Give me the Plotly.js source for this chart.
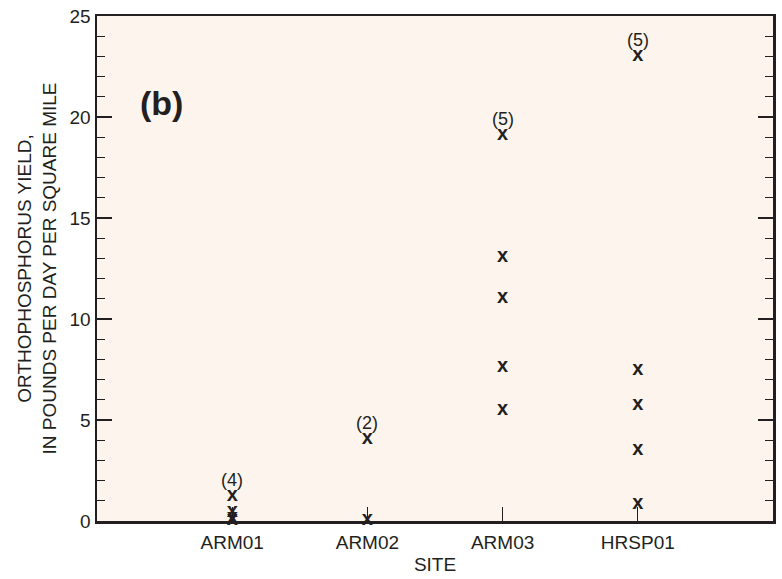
<!DOCTYPE html>
<html>
<head>
<meta charset="utf-8">
<script src="https://cdn.plot.ly/plotly-3.0.1.min.js"></script>
<style>html,body{margin:0;padding:0;background:#fff;}#chart{width:782px;height:579px;}</style>
</head>
<body>
<div id="chart"></div>
<script>
const sites = ["ARM01", "ARM02", "ARM03", "HRSP01"];
const arm01 = [1.25, 0.45, 0.15, 0.05];
const arm02 = [4.05, 0.05];
const arm03 = [19.1, 13.05, 11.05, 7.6, 5.5];
const hrsp01 = [23.0, 7.5, 5.75, 3.5, 0.85];
const counts = ["(4)", "(2)", "(5)", "(5)"];
const countY = [1.25, 4.05, 19.1, 23.0];

const values = [arm01, arm02, arm03, hrsp01];
const xs = [], ys = [];
values.forEach((vals, i) => vals.forEach(v => { xs.push(i + 1); ys.push(v); }));

const font = "Liberation Sans, Arial, Helvetica, sans-serif";
const ink = "#231f20";
const trace = {
  x: xs, y: ys, mode: "text", type: "scatter",
  text: xs.map(() => "x"),
  textposition: "middle center",
  textfont: {family: font, size: 20, color: ink, weight: "bold"},
  cliponaxis: false, hoverinfo: "skip", showlegend: false
};

const annotations = counts.map((c, i) => ({
  x: i + 1, y: countY[i], xref: "x", yref: "y", text: c, showarrow: false,
  yanchor: "bottom", yshift: 4, font: {family: font, size: 18, color: ink}
}));
annotations.push({
  xref: "paper", yref: "paper", x: 0.06, y: 0.827, xanchor: "left", yanchor: "middle",
  text: "<b>(b)</b>", showarrow: false, font: {family: font, size: 34, color: ink}
});

const layout = {
  width: 782, height: 579,
  margin: {l: 97, r: 9, t: 16, b: 58},
  paper_bgcolor: "#ffffff", plot_bgcolor: "#fdf4ee",
  font: {family: font, color: ink},
  xaxis: {
    range: [0, 5], tickvals: [1, 2, 3, 4], ticktext: sites,
    ticks: "inside", ticklen: 14, tickwidth: 1.2, tickcolor: ink,
    showline: true, linewidth: 2.5, linecolor: ink, mirror: true,
    showgrid: false, zeroline: false, ticklabelstandoff: 3,
    tickfont: {family: font, size: 19, color: ink},
    title: {text: "SITE", font: {family: font, size: 19, color: ink}, standoff: 6}
  },
  yaxis: {
    range: [0, 25], tickvals: [0, 5, 10, 15, 20, 25],
    ticks: "inside", ticklen: 15, tickwidth: 1.2, tickcolor: ink,
    minor: {dtick: 1, ticks: "inside", ticklen: 8, tickwidth: 1.2, tickcolor: ink, showgrid: false},
    showline: true, linewidth: 2.5, linecolor: ink, mirror: "ticks",
    showgrid: false, zeroline: false,
    tickfont: {family: font, size: 19, color: ink},
    title: {text: "ORTHOPHOSPHORUS YIELD,<br>IN POUNDS PER DAY PER SQUARE MILE",
            font: {family: font, size: 19, color: ink}, standoff: 8}
  },
  annotations: annotations
};

Plotly.newPlot("chart", [trace], layout, {staticPlot: true, displayModeBar: false});
</script>
</body>
</html>
